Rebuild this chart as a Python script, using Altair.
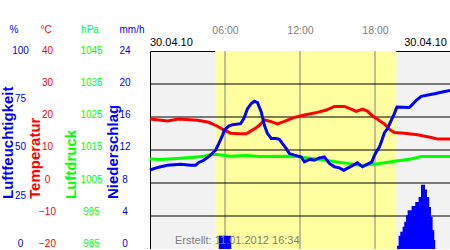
import altair as alt
import pandas as pd

# ---------------- data ----------------
temp_h = [0, 1.4, 2.3, 3.8, 4.7, 5.4, 5.9, 6.45, 7.1, 7.7, 8.35, 8.75, 9.15, 9.7, 10.2, 10.7,
          11.55, 12.35, 13.4, 14.1, 14.75, 15.55, 16.1, 16.5, 17.0, 17.4, 17.8, 18.2, 18.75,
          19.15, 19.55, 20.35, 21.4, 22.5, 23.0, 24.0]
temp_v = [19.4, 18.8, 19.4, 19.0, 18.4, 17.2, 16.1, 15.1, 14.9, 14.9, 16.4, 17.5, 19.1, 18.6, 17.9, 18.6,
          19.9, 20.6, 21.4, 22.1, 23.2, 23.2, 22.4, 21.7, 22.4, 21.8, 20.3, 19.3, 17.9,
          16.3, 15.3, 15.1, 14.6, 13.8, 13.3, 13.3]

hum_h = [0, 0.3, 0.85, 1.4, 2.45, 3.25, 3.65, 3.9, 4.3, 4.85, 5.25, 5.5, 5.8, 5.95, 6.3, 6.6,
         7.25, 7.5, 7.8, 8.1, 8.35, 8.6, 8.9, 9.15, 9.4, 9.7, 10.1, 10.35, 10.6, 10.9, 11.15,
         11.55, 12.1, 12.35, 12.75, 13.15, 13.55, 13.95, 14.35, 14.75, 15.15, 15.5, 16.0,
         16.6, 17.0, 17.75, 17.9, 18.1, 18.35, 18.55, 18.75, 19.0, 19.3, 19.55, 19.75, 20.75,
         21.0, 21.3, 21.7, 22.75, 23.3, 24.0]
hum_v = [39.8, 40.6, 41.5, 42.3, 42.8, 42.3, 42.3, 43.7, 44.8, 47.4, 49.9, 53.2, 57.4, 60.0, 62.1, 62.8,
         63.3, 65.8, 70.9, 73.4, 74.6, 73.9, 69.2, 62.5, 58.3, 55.8, 55.8, 55.4, 53.2, 50.7, 48.2,
         47.4, 46.5, 44.0, 45.3, 44.8, 46.0, 46.5, 43.2, 41.5, 41.0, 39.8, 41.5,
         43.5, 41.5, 44.0, 46.5, 49.0, 51.5, 54.9, 58.6, 60.8, 65.0, 68.4, 71.7, 71.5,
         73.0, 75.1, 77.1, 78.4, 79.2, 80.1]

pres_h = [0, 0.85, 2.45, 3.5, 4.3, 4.85, 5.4, 6.45, 7.7, 8.75, 11.55, 13.3, 15.5, 16.9, 18.2,
          19.55, 20.9, 21.7, 22.5, 24.0]
pres_v = [1012.3, 1012.1, 1012.5, 1012.8, 1013.1, 1013.6, 1013.6, 1013.1, 1013.3, 1013.0, 1013.1,
          1012.3, 1011.1, 1010.3, 1010.8, 1011.6, 1012.3, 1013.0, 1013.0, 1013.0]

rain_h = [0, 5.5, 6.5, 19.76, 19.89, 20.02, 20.21, 20.34, 20.48, 20.61, 20.93, 21.22, 21.49,
          21.68, 22.0, 22.16, 22.34, 22.48, 22.61, 22.74, 22.82, 24.0]
rain_v = [0, 1.6, 0, 0.4, 1.6, 2.1, 2.7, 3.3, 4.1, 4.7, 5.2, 5.7, 6.3,
          7.8, 7.2, 6.3, 5.1, 3.9, 2.3, 1.1, 0, 0]

day_start, day_end = [5.22], [19.7]
hour_ticks = [6, 12, 18]
temp_grid = [-10, 0, 10, 20, 30]
hum_ticks = [0, 25, 50, 75, 100]
temp_ticks = [-20, -10, 0, 10, 20, 30, 40]
pres_ticks = [985, 995, 1005, 1015, 1025, 1035, 1045]
rain_ticks = [0, 4, 8, 12, 16, 20, 24]

date_label = "30.04.10"
footer = "Erstellt: 11.01.2012 16:34"
units = ["%", "°C", "hPa", "mm/h"]
titles = ["Luftfeuchtigkeit", "Temperatur", "Luftdruck", "Niederschlag"]

FONT = "Liberation Sans"
BLUE, RED, GREEN = "#0000FF", "#FF0000", "#00FF00"
W, H = 300, 198

xscale = alt.Scale(domain=[0, 24], nice=False, zero=False)
xaxis = alt.Axis(orient="top", values=hour_ticks, title=None, grid=False, domain=False,
                 ticks=False, tickSize=0, labelPadding=21, labelBaseline="middle",
                 labelColor="#808080", labelFontSize=10.5, labelFont=FONT, labelFlush=False,
                 labelExpr="(datum.value < 10 ? '0' : '') + datum.value + ':00'")


def X(field):
    return alt.X(field, type="quantitative", scale=xscale, axis=xaxis)


def yaxis(values, color, offset):
    lo, hi = min(values), max(values)
    conds = [{"test": f"datum.value == {v}", "value": round(-1 - 4.5 * (hi - v) / (hi - lo), 1)}
             for v in values]
    return alt.Axis(orient="left", values=values, title=None, grid=False, domain=False,
                    ticks=False, tickSize=0, labelPadding=0, labelAlign="center",
                    labelBaseline="middle", labelOffset={"condition": conds, "value": -3},
                    labelColor=color, labelFontSize=10, labelFont=FONT, format="d",
                    labelFlush=False, labelOverlap=False, offset=offset)


one = pd.DataFrame({"k": [0]})

# daylight band
band = alt.Chart(pd.DataFrame({"a": day_start, "b": day_end})).mark_rect(color="#FFFFA0").encode(
    x=X("a"), x2="b", y=alt.value(0), y2=alt.value(H))

vgrid = alt.Chart(pd.DataFrame({"h": hour_ticks})).mark_rule(color="#808080", strokeWidth=1).encode(
    x=X("h"), y=alt.value(0), y2=alt.value(H))

hgrid = alt.Chart(pd.DataFrame({"v": temp_grid})).mark_rule(color="black", strokeWidth=1).encode(
    y=alt.Y("v:Q", scale=alt.Scale(domain=[-20, 40], nice=False, zero=False), axis=None),
    x=alt.value(0), x2=alt.value(W))

pres = alt.Chart(pd.DataFrame({"h": pres_h, "v": pres_v})).mark_line(color=GREEN, strokeWidth=3).encode(
    x=X("h"),
    y=alt.Y("v:Q", scale=alt.Scale(domain=[985, 1045], nice=False, zero=False),
            axis=yaxis(pres_ticks, GREEN, 59)))

temp = alt.Chart(pd.DataFrame({"h": temp_h, "v": temp_v})).mark_line(color=RED, strokeWidth=3).encode(
    x=X("h"),
    y=alt.Y("v:Q", scale=alt.Scale(domain=[-20, 40], nice=False, zero=False),
            axis=yaxis(temp_ticks, RED, 103)))

hum = alt.Chart(pd.DataFrame({"h": hum_h, "v": hum_v})).mark_line(color=BLUE, strokeWidth=3).encode(
    x=X("h"),
    y=alt.Y("v:Q", scale=alt.Scale(domain=[0, 100], nice=False, zero=False),
            axis=yaxis(hum_ticks, BLUE, 130)))

rain = alt.Chart(pd.DataFrame({"h": rain_h, "v": rain_v})).mark_area(
    color=BLUE, interpolate="step-after", opacity=1).encode(
    x=X("h"),
    y=alt.Y("v:Q", scale=alt.Scale(domain=[0, 24], nice=False, zero=False),
            axis=yaxis(rain_ticks, BLUE, 25.5)))


def label(text, x, y, color="black", size=10, align="center", angle=0, weight="normal"):
    return alt.Chart(one).mark_text(text=text, color=color, fontSize=size, align=align, font=FONT,
                                    baseline="middle", angle=angle, fontWeight=weight).encode(
        x=alt.value(x), y=alt.value(y))


texts = [
    label(date_label, 0, -8, size=11, align="left"),
    label(date_label, 297, -8, size=11, align="right"),
    label(footer, 25, 190, color="#808080", size=11, align="left"),
    label(units[0], -136, -21, color=BLUE),
    label(units[1], -104, -21, color=RED),
    label(units[2], -60, -21, color=GREEN),
    label(units[3], -18, -21, color=BLUE),
    label(titles[0], -142, 148, color=BLUE, size=15, align="left", angle=270, weight="bold"),
    label(titles[1], -115, 148, color=RED, size=15, align="left", angle=270, weight="bold"),
    label(titles[2], -79, 148, color=GREEN, size=15, align="left", angle=270, weight="bold"),
    label(titles[3], -37, 148, color=BLUE, size=15, align="left", angle=270, weight="bold"),
]

chart = alt.layer(band, vgrid, hgrid, pres, temp, hum, rain, *texts).resolve_scale(
    y="independent", x="shared"
).properties(
    width=W, height=H,
    autosize=alt.AutoSizeParams(type="none"),
    padding={"left": 150, "top": 51, "right": 0, "bottom": 0},
    background="white",
).configure(font=FONT).configure_view(
    fill="#F2F2F2", stroke="black", strokeWidth=1
)

chart.save("out.html", embed_options={"renderer": "svg", "actions": False})
